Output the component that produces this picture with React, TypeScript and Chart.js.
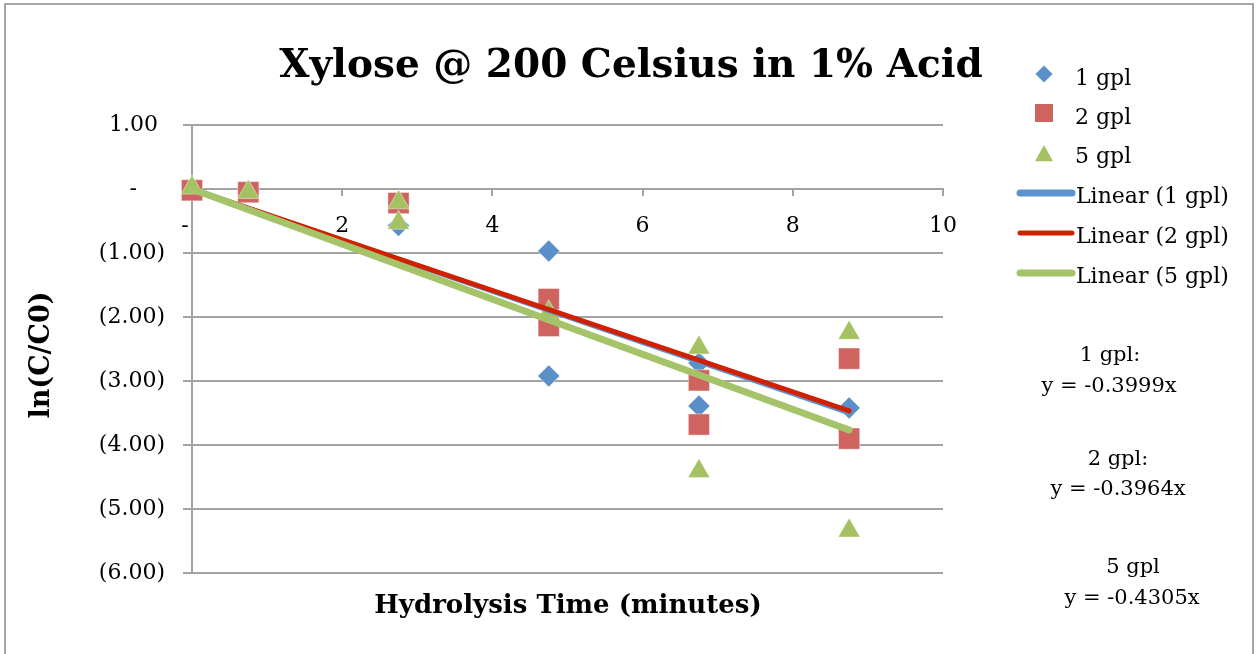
import React, { useEffect, useRef } from "react";
import { Chart, registerables } from "chart.js";

Chart.register(...registerables);

// ---- data ----
const seriesLabels = ["1 gpl", "2 gpl", "5 gpl"];
const trendLabels = ["Linear (1 gpl)", "Linear (2 gpl)", "Linear (5 gpl)"];

const gpl1X = [0, 0.75, 2.75, 4.75, 4.75, 6.75, 6.75, 8.75];
const gpl1Y = [0, -0.03, -0.57, -0.97, -2.92, -2.72, -3.39, -3.42];

const gpl2X = [0, 0.75, 2.75, 4.75, 4.75, 6.75, 6.75, 8.75, 8.75];
const gpl2Y = [-0.02, -0.05, -0.22, -1.72, -2.14, -2.99, -3.68, -2.65, -3.9];

const gpl5X = [0, 0.75, 2.75, 2.75, 4.75, 6.75, 6.75, 8.75, 8.75];
const gpl5Y = [0.02, -0.05, -0.21, -0.53, -1.93, -2.48, -4.41, -2.25, -5.34];

const slopes = [-0.3999, -0.3964, -0.4305];
const trendX = [0, 8.75];

const equationHeads = ["1 gpl:", "2 gpl:", "5 gpl"];
const equationTexts = ["y = -0.3999x", "y = -0.3964x", "y = -0.4305x"];

const xTicksMin = 0;
const xTicksMax = 10;
const xStep = 2;
const yMin = -6;
const yMax = 1;
const yStep = 1;

// ---- styles ----
const FONT = "'DejaVu Serif', serif";
const GRID = "#a3a3a3";
const markerColors = ["#5b8fc9", "#cf6360", "#a5c263"];
const trendColors = ["#5b93d0", "#d02000", "#a5c46a"];
const trendWidths = [5, 5, 7];
const markerStyles = ["rectRot", "rect", "triangle"];
const markerRadii = [11, 15, 12.7];

function pts(xs: number[], ys: number[]) {
  return xs.map((x, i) => ({ x, y: ys[i] }));
}

function fmtY(v: number) {
  if (v === 0) return "-    ";
  if (v > 0) return v.toFixed(2) + " ";
  return "(" + Math.abs(v).toFixed(2) + ")";
}

function drawMarker(ctx: CanvasRenderingContext2D, style: string, x: number, y: number, s: number, color: string) {
  ctx.save();
  ctx.fillStyle = color;
  ctx.beginPath();
  if (style === "rectRot") {
    ctx.moveTo(x, y - s);
    ctx.lineTo(x + s, y);
    ctx.lineTo(x, y + s);
    ctx.lineTo(x - s, y);
  } else if (style === "rect") {
    ctx.rect(x - s, y - s, 2 * s, 2 * s);
  } else {
    ctx.moveTo(x, y - s);
    ctx.lineTo(x + s, y + s * 0.8);
    ctx.lineTo(x - s, y + s * 0.8);
  }
  ctx.closePath();
  ctx.fill();
  ctx.restore();
}

const decor = {
  id: "decor",
  afterDraw(chart: any) {
    const ctx: CanvasRenderingContext2D = chart.ctx;
    ctx.save();
    // outer frame
    ctx.strokeStyle = "#a6a6a6";
    ctx.lineWidth = 2;
    ctx.strokeRect(5, 4, 1248, 700);

    ctx.fillStyle = "#000";
    // title
    ctx.font = "bold 39px " + FONT;
    ctx.textAlign = "center";
    ctx.textBaseline = "alphabetic";
    ctx.fillText("Xylose @ 200 Celsius in 1% Acid", 631, 77);

    // x title
    ctx.font = "bold 26px " + FONT;
    ctx.fillText("Hydrolysis Time (minutes)", 568, 613);

    // y title
    ctx.save();
    ctx.font = "bold 27px " + FONT;
    ctx.translate(49, 355);
    ctx.rotate(-Math.PI / 2);
    ctx.textBaseline = "alphabetic";
    ctx.fillText("ln(C/C0)", 0, 0);
    ctx.restore();

    // legend
    ctx.font = "22px " + FONT;
    ctx.textAlign = "left";
    const markerY = [74, 113, 154];
    const markerS = [8.5, 9, 9];
    const textBase = [85, 124, 163, 203, 243, 283];
    for (let i = 0; i < 3; i++) {
      drawMarker(ctx, markerStyles[i], 1044, markerY[i], markerS[i], markerColors[i]);
      ctx.fillStyle = "#000";
      ctx.fillText(seriesLabels[i], 1075, textBase[i]);
    }
    const lineY = [193, 233, 273];
    const lineW = [7, 5, 7];
    for (let i = 0; i < 3; i++) {
      ctx.strokeStyle = trendColors[i];
      ctx.lineWidth = lineW[i];
      ctx.lineCap = "round";
      ctx.beginPath();
      ctx.moveTo(1020, lineY[i]);
      ctx.lineTo(1072, lineY[i]);
      ctx.stroke();
      ctx.fillStyle = "#000";
      ctx.fillText(trendLabels[i], 1076, textBase[i + 3]);
    }

    // equations
    ctx.font = "21px " + FONT;
    ctx.textAlign = "center";
    const headX = [1110, 1118, 1133];
    const headY = [361, 465, 573];
    const eqX = [1109, 1118, 1132];
    const eqY = [392, 495, 604];
    for (let i = 0; i < 3; i++) {
      ctx.fillText(equationHeads[i], headX[i], headY[i]);
      ctx.fillText(equationTexts[i], eqX[i], eqY[i]);
    }
    ctx.restore();
  },
};

export default function App() {
  const ref = useRef<HTMLCanvasElement | null>(null);

  useEffect(() => {
    if (!ref.current) return;
    const scatterSets = [
      pts(gpl1X, gpl1Y),
      pts(gpl2X, gpl2Y),
      pts(gpl5X, gpl5Y),
    ];
    const datasets: any[] = [];
    // trendlines (drawn on top): green top, then red, then blue
    slopes.forEach((m, i) => {
      datasets.push({
        label: trendLabels[i],
        data: trendX.map((x) => ({ x, y: m * x })),
        showLine: true,
        borderColor: trendColors[i],
        borderWidth: trendWidths[i],
        pointRadius: 0,
        borderCapStyle: "round",
        clip: false,
        order: 2 - i,
      });
    });
    scatterSets.forEach((d, i) => {
      datasets.push({
        label: seriesLabels[i],
        data: d,
        showLine: false,
        pointStyle: markerStyles[i],
        pointRadius: markerRadii[i],
        pointBackgroundColor: markerColors[i],
        pointBorderColor: "rgba(255,255,255,0.45)",
        pointBorderWidth: 1,
        clip: false,
        order: 5 - i,
      });
    });

    const chart = new Chart(ref.current, {
      type: "scatter",
      data: { datasets },
      options: {
        animation: false,
        responsive: false,
        devicePixelRatio: 1,
        layout: { padding: { left: 0, right: 313, top: 125, bottom: 81 } },
        plugins: {
          legend: { display: false },
          tooltip: { enabled: false },
          title: { display: false },
        },
        scales: {
          x: {
            type: "linear",
            position: { y: 0 } as any,
            min: xTicksMin,
            max: xTicksMax,
            ticks: {
              stepSize: xStep,
              font: { family: FONT, size: 22 },
              color: "#000",
              padding: 18,
              maxRotation: 0,
              callback: (v: any) => (v === 0 ? "-  " : String(v)),
            },
            grid: {
              drawOnChartArea: false,
              drawTicks: true,
              tickLength: 6,
              color: GRID,
              lineWidth: 2,
            },
            border: { display: true, color: GRID, width: 2 },
          },
          y: {
            min: yMin,
            max: yMax,
            ticks: {
              stepSize: yStep,
              font: { family: FONT, size: 22 },
              color: "#000",
              padding: 18,
              callback: (v: any) => fmtY(Number(v)),
            },
            grid: {
              color: GRID,
              lineWidth: 2,
              drawTicks: true,
              tickLength: 9,
            },
            border: { display: true, color: GRID, width: 2 },
            afterFit: (s: any) => {
              s.width = 192;
            },
          },
        },
      },
      plugins: [decor],
    });
    return () => chart.destroy();
  }, []);

  return (
    <div style={{ position: "absolute", left: 0, top: 0, width: 1256, height: 654, background: "#fff" }}>
      <canvas ref={ref} width={1256} height={654} style={{ display: "block" }} />
    </div>
  );
}
